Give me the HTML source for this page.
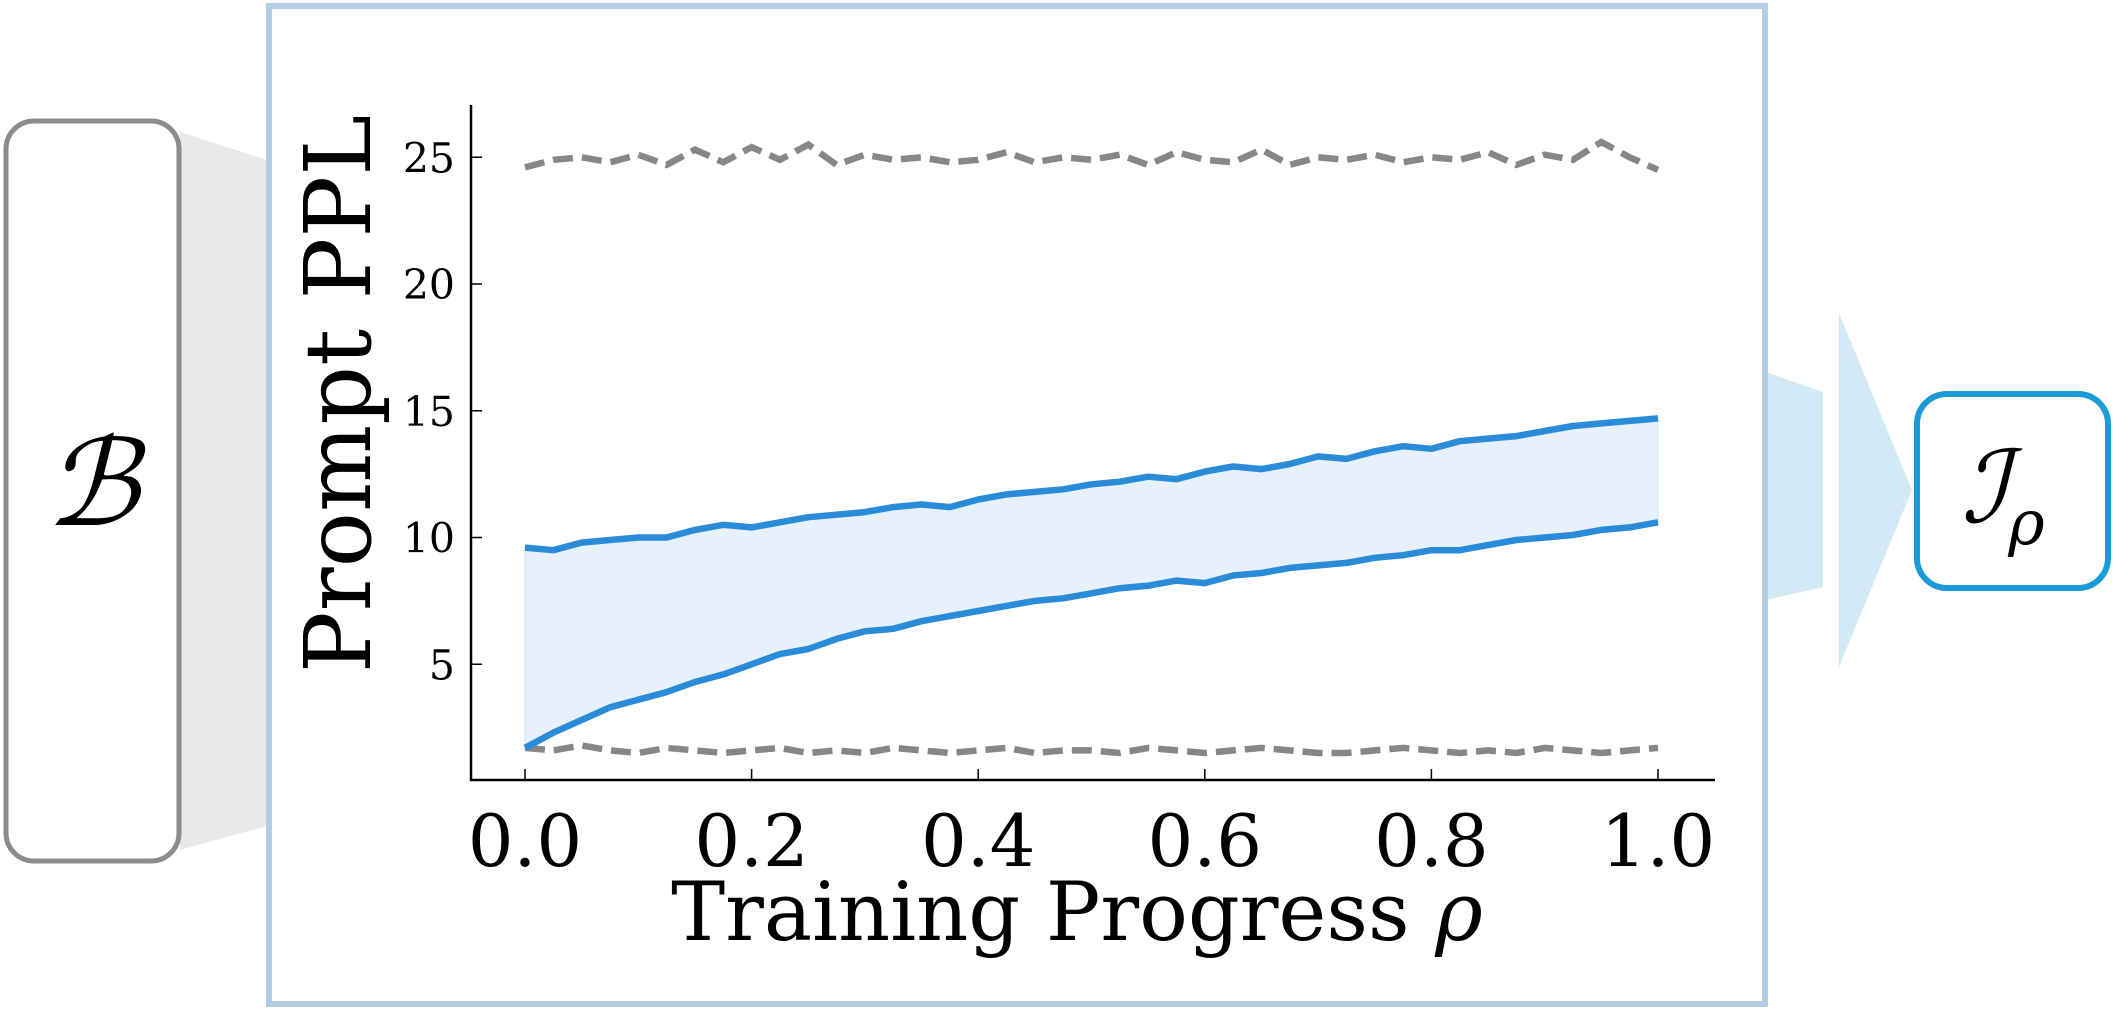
<!DOCTYPE html>
<html><head><meta charset="utf-8"><style>
html,body{margin:0;padding:0;background:#fff;width:2117px;height:1012px;overflow:hidden}
svg{display:block}
</style></head><body>
<svg id="fig" width="2117" height="1012" viewBox="0 0 2117 1012" xmlns="http://www.w3.org/2000/svg">
<polygon points="180,132 267,160 267,826 180,850" fill="#e9e9e9"/>
<rect x="6" y="121" width="173" height="740" rx="28" fill="#fff" stroke="#8c8c8c" stroke-width="5"/>
<text x="92" y="525" font-family="DejaVu Serif, serif" font-style="italic" font-size="120" text-anchor="middle">ℬ</text>
<polygon points="1766,372 1823,392 1823,587 1766,600" fill="#d4e9f6"/>
<polygon points="1839,313 1912,490 1839,667" fill="#d4e9f6"/>
<rect x="1917" y="394" width="191" height="194" rx="30" fill="#fff" stroke="#1a9ad6" stroke-width="6"/>
<text x="2003" y="522" font-family="DejaVu Serif, serif" font-style="italic" font-size="100" text-anchor="middle">ℐ<tspan font-size="62" dy="22">ρ</tspan></text>
<rect x="269" y="6" width="1496" height="998" fill="#fff" stroke="#b5cde3" stroke-width="6"/>
<g id="plot"></g>
</svg>
<script>
const xTicks=[0.0,0.2,0.4,0.6,0.8,1.0];
const xTickLabels=["0.0","0.2","0.4","0.6","0.8","1.0"];
const yTicks=[5,10,15,20,25];
const yTickLabels=["5","10","15","20","25"];
const upperBand=[9.6,9.5,9.8,9.9,10.0,10.0,10.3,10.5,10.4,10.6,10.8,10.9,11.0,11.2,11.3,11.2,11.5,11.7,11.8,11.9,12.1,12.2,12.4,12.3,12.6,12.8,12.7,12.9,13.2,13.1,13.4,13.6,13.5,13.8,13.9,14.0,14.2,14.4,14.5,14.6,14.7];
const lowerBand=[1.7,2.3,2.8,3.3,3.6,3.9,4.3,4.6,5.0,5.4,5.6,6.0,6.3,6.4,6.7,6.9,7.1,7.3,7.5,7.6,7.8,8.0,8.1,8.3,8.2,8.5,8.6,8.8,8.9,9.0,9.2,9.3,9.5,9.5,9.7,9.9,10.0,10.1,10.3,10.4,10.6];
const topGray=[24.6,24.9,25.0,24.8,25.1,24.7,25.3,24.8,25.4,24.9,25.5,24.7,25.1,24.9,25.0,24.8,24.9,25.2,24.8,25.0,24.9,25.1,24.7,25.2,24.9,24.8,25.3,24.7,25.0,24.9,25.1,24.8,25.0,24.9,25.2,24.7,25.1,24.9,25.6,25.0,24.5];
const bottomGray=[1.7,1.6,1.8,1.6,1.5,1.7,1.6,1.5,1.6,1.7,1.5,1.6,1.5,1.7,1.6,1.5,1.6,1.7,1.5,1.6,1.6,1.5,1.7,1.6,1.5,1.6,1.7,1.6,1.5,1.5,1.6,1.7,1.6,1.5,1.6,1.5,1.7,1.6,1.5,1.6,1.7];

const NS="http://www.w3.org/2000/svg";
const g=document.getElementById('plot');
const X0=525,X1=1658,Y0=791,YU=25.35;
const xs=v=>X0+(X1-X0)*v;
const ys=v=>Y0-YU*v;
function mk(t,a){const e=document.createElementNS(NS,t);for(const k in a)e.setAttribute(k,a[k]);g.appendChild(e);return e;}
const px=(arr,i)=>xs(i/(arr.length-1));
function pts(arr){return arr.map((v,i)=>px(arr,i).toFixed(1)+","+ys(v).toFixed(1));}

let fillPts=pts(upperBand).concat(pts(lowerBand).reverse());
let f=mk('polygon',{points:fillPts.join(' '),fill:'#e6f1fb',stroke:'#d0e4f5','stroke-width':1});



[[topGray,'top-baseline'],[bottomGray,'bottom-baseline']].forEach(([a,n])=>{
 const l=mk('polyline',{points:pts(a).join(' '),fill:'none',stroke:'#878787','stroke-width':6.5,'stroke-dasharray':'20,9'});
 
 
});
[[upperBand,'upper-bound-line'],[lowerBand,'lower-bound-line']].forEach(([a,n])=>{
 const l=mk('polyline',{points:pts(a).join(' '),fill:'none',stroke:'#2a8bd8','stroke-width':6.5,'stroke-linejoin':'round'});
 
 
});

const ya=mk('line',{x1:471,y1:105,x2:471,y2:781,stroke:'#000','stroke-width':2.5});


const xa=mk('line',{x1:470,y1:780,x2:1715,y2:780,stroke:'#000','stroke-width':2.5});



yTicks.forEach((v,i)=>{
 const t=mk('line',{x1:471,y1:ys(v),x2:482,y2:ys(v),stroke:'#000','stroke-width':1.5});
 
 
 const l=mk('text',{x:455,y:ys(v)+15,'text-anchor':'end','font-family':'DejaVu Serif, serif','font-size':41});
 l.textContent=yTickLabels[i];
 
 
});
xTicks.forEach((v,i)=>{
 const t=mk('line',{x1:xs(v),y1:780,x2:xs(v),y2:769,stroke:'#000','stroke-width':1.5});
 
 
 const l=mk('text',{x:xs(v),y:866,'text-anchor':'middle','font-family':'DejaVu Serif, serif','font-size':72});
 l.textContent=xTickLabels[i];
 
 
});
const xt=mk('text',{x:1077,y:940,'text-anchor':'middle','font-family':'DejaVu Serif, serif','font-size':81});
xt.innerHTML='Training Progress <tspan font-style="italic">ρ</tspan>';


const yt=mk('text',{x:0,y:0,'text-anchor':'middle','font-family':'DejaVu Serif, serif','font-size':92,transform:'translate(370,394) rotate(-90)'});
yt.textContent='Prompt PPL';


</script>
</body></html>
